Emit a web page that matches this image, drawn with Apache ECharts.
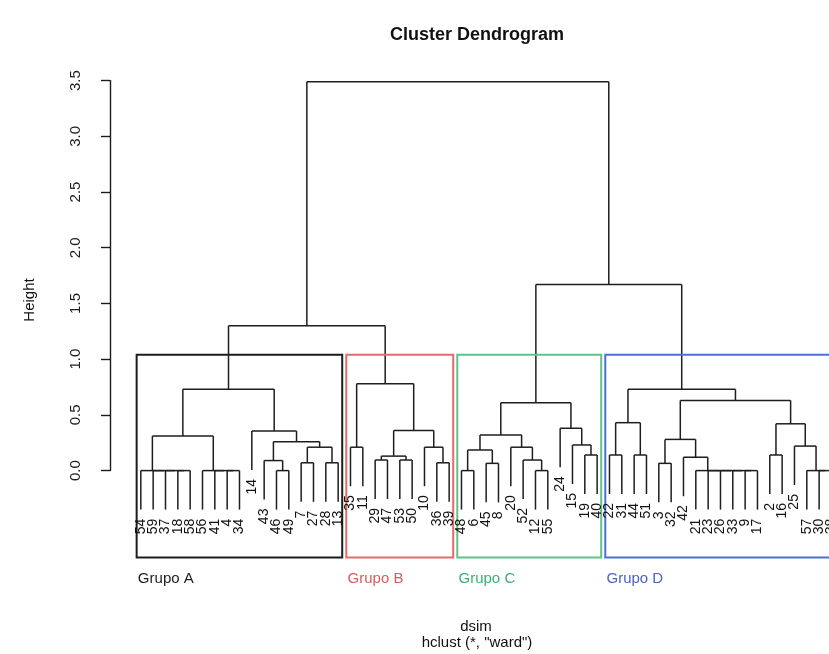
<!DOCTYPE html>
<html>
<head>
<meta charset="utf-8">
<script src="https://cdn.jsdelivr.net/npm/echarts@6/dist/echarts.min.js"></script>
<style>
  html, body { margin: 0; padding: 0; background: #ffffff; }
  #chart { width: 829px; height: 654px; }
</style>
</head>
<body>
<div id="chart"></div>
<script>
// Leaf labels in dendrogram order (left to right)
const leafLabels = [
  54, 59, 37, 18, 58, 56, 41, 4, 34, 14, 43, 46, 49, 7, 27, 28, 13,
  35, 11, 29, 47, 53, 50, 10, 36, 39,
  48, 6, 45, 8, 20, 52, 12, 55, 24, 15, 19, 40,
  22, 31, 44, 51, 3, 32, 42, 21, 23, 26, 33, 9, 17, 2, 16, 25, 57, 30, 38
];

// hclust-style merge table: negative = leaf (1-based position), positive = earlier row
const merges = [
  [-4, -5, 0], [-3, 1, 0], [-2, 2, 0], [-1, 3, 0],
  [-8, -9, 0], [-7, 5, 0], [-6, 6, 0],
  [4, 7, 0.31],
  [-12, -13, 0], [-11, 9, 0.09],
  [-14, -15, 0.07], [-16, -17, 0.07], [11, 12, 0.21],
  [10, 13, 0.26], [-10, 14, 0.355],
  [8, 15, 0.73],
  [-18, -19, 0.21], [-20, -21, 0.095], [-22, -23, 0.095], [18, 19, 0.13],
  [-25, -26, 0.07], [-24, 21, 0.21], [20, 22, 0.36], [17, 23, 0.78],
  [16, 24, 1.30],
  [-27, -28, 0], [-29, -30, 0.065], [26, 27, 0.185],
  [-33, -34, 0], [-32, 29, 0.095], [-31, 30, 0.21], [28, 31, 0.32],
  [-37, -38, 0.14], [-36, 33, 0.23], [-35, 34, 0.38], [32, 35, 0.61],
  [-39, -40, 0.14], [-41, -42, 0.14], [37, 38, 0.43],
  [-43, -44, 0.065],
  [-50, -51, 0], [-49, 41, 0], [-48, 42, 0], [-47, 43, 0], [-46, 44, 0],
  [-45, 45, 0.12], [40, 46, 0.28],
  [-52, -53, 0.14],
  [-56, -57, 0], [-55, 49, 0], [-54, 50, 0.22],
  [48, 51, 0.42], [47, 52, 0.63], [39, 53, 0.73],
  [36, 54, 1.67],
  [25, 55, 3.49]
];

const groupNames = ['Grupo A', 'Grupo B', 'Grupo C', 'Grupo D'];
const groupSizes = [17, 9, 12, 19];
const groupBorderColors = ['#1c1c1c', '#e56a6a', '#5fc28a', '#4d6fd8'];
const groupTextColors = ['#1c1c1c', '#d65c5c', '#3fae78', '#4a64c4'];
const hang = 0.35;        // leaf drop below its merge
const plotBottom = -0.78; // lower edge of the plot region

// ---- layout of the tree in (leaf index, height) units ----
const nodeX = [];
const nodeH = [];
const leafEnd = new Array(leafLabels.length).fill(0);
const segments = [];
merges.forEach(function (m) {
  const h = m[2];
  const xs = [m[0], m[1]].map(function (c) {
    let x, bottom;
    if (c < 0) {
      x = -c - 1;
      bottom = h - hang;
      leafEnd[x] = bottom;
    } else {
      x = nodeX[c - 1];
      bottom = nodeH[c - 1];
    }
    segments.push([x, bottom, x, h]);
    return x;
  });
  segments.push([xs[0], h, xs[1], h]);
  nodeX.push((xs[0] + xs[1]) / 2);
  nodeH.push(h);
});

// cluster rectangles (k = 4): top halfway between the 3rd and 4th highest merges
const sortedH = nodeH.slice().sort(function (a, b) { return b - a; });
const rectTop = (sortedH[2] + sortedH[3]) / 2;
const rects = [];
let start = 0;
groupSizes.forEach(function (n, g) {
  rects.push([start - 0.34, start + n - 1 + 0.33, plotBottom, rectTop, g]);
  start += n;
});

const labelData = leafLabels.map(function (lab, i) { return [i, leafEnd[i], String(lab)]; });
const groupLabelData = rects.map(function (r) { return [r[0] + 0.1, -0.97, r[4]]; });

const chart = echarts.init(document.getElementById('chart'), null, { renderer: 'canvas' });
const font = '"Liberation Sans", Arial, sans-serif';

chart.setOption({
  animation: false,
  backgroundColor: '#ffffff',
  grid: { left: 110, right: 0, top: 80.6, bottom: 183.4 },
  xAxis: {
    type: 'value', min: -2.5, max: 55.8, show: false
  },
  yAxis: {
    type: 'value', min: 0, max: 3.5, interval: 0.5,
    axisLine: { show: true, onZero: false, lineStyle: { color: '#1c1c1c', width: 1.4 } },
    axisTick: { show: true, length: 9, lineStyle: { color: '#1c1c1c', width: 1.4 } },
    axisLabel: {
      rotate: 90, margin: 27, color: '#1c1c1c', fontSize: 15, fontFamily: font,
      formatter: function (v) { return v.toFixed(1); }
    },
    splitLine: { show: false }
  },
  graphic: [
    { type: 'text', x: 477, y: 35,
      style: { text: 'Cluster Dendrogram', font: 'bold 18px ' + font, fill: '#111', align: 'center', verticalAlign: 'middle' } },
    { type: 'text', x: 476, y: 627, style: { text: 'dsim', font: '15px ' + font, fill: '#111', align: 'center', verticalAlign: 'middle' } },
    { type: 'text', x: 477, y: 643, style: { text: 'hclust (*, "ward")', font: '15px ' + font, fill: '#111', align: 'center', verticalAlign: 'middle' } },
    { type: 'text', x: 30, y: 300, rotation: Math.PI / 2,
      style: { text: 'Height', font: '15px ' + font, fill: '#111', align: 'center', verticalAlign: 'middle' } }
  ],
  series: [
    {
      type: 'custom', clip: false, silent: true,
      data: segments,
      renderItem: function (params, api) {
        const p1 = api.coord([api.value(0), api.value(1)]);
        const p2 = api.coord([api.value(2), api.value(3)]);
        return { type: 'line', shape: { x1: p1[0], y1: p1[1], x2: p2[0], y2: p2[1] },
          style: { stroke: '#1e1e1e', lineWidth: 1.5 } };
      }
    },
    {
      type: 'custom', clip: false, silent: true,
      data: rects,
      renderItem: function (params, api) {
        const p1 = api.coord([api.value(0), api.value(3)]);
        const p2 = api.coord([api.value(1), api.value(2)]);
        return { type: 'rect', shape: { x: p1[0], y: p1[1], width: p2[0] - p1[0], height: p2[1] - p1[1] },
          style: { fill: 'none', stroke: groupBorderColors[api.value(4)], lineWidth: 2 } };
      }
    },
    {
      type: 'custom', clip: false, silent: true,
      data: labelData,
      dimensions: ['x', 'y', { name: 'label', type: 'ordinal' }],
      renderItem: function (params, api) {
        const p = api.coord([api.value(0), api.value(1)]);
        return { type: 'text', x: p[0], y: p[1] + 9, rotation: Math.PI / 2,
          style: { text: labelData[params.dataIndex][2], font: '14px ' + font, fill: '#111',
            align: 'right', verticalAlign: 'middle' } };
      }
    },
    {
      type: 'custom', clip: false, silent: true,
      data: groupLabelData,
      renderItem: function (params, api) {
        const p = api.coord([api.value(0), api.value(1)]);
        const g = api.value(2);
        return { type: 'text', x: p[0], y: p[1],
          style: { text: groupNames[g], font: '15px ' + font, fill: groupTextColors[g],
            align: 'left', verticalAlign: 'middle' } };
      }
    }
  ]
});
</script>
</body>
</html>
